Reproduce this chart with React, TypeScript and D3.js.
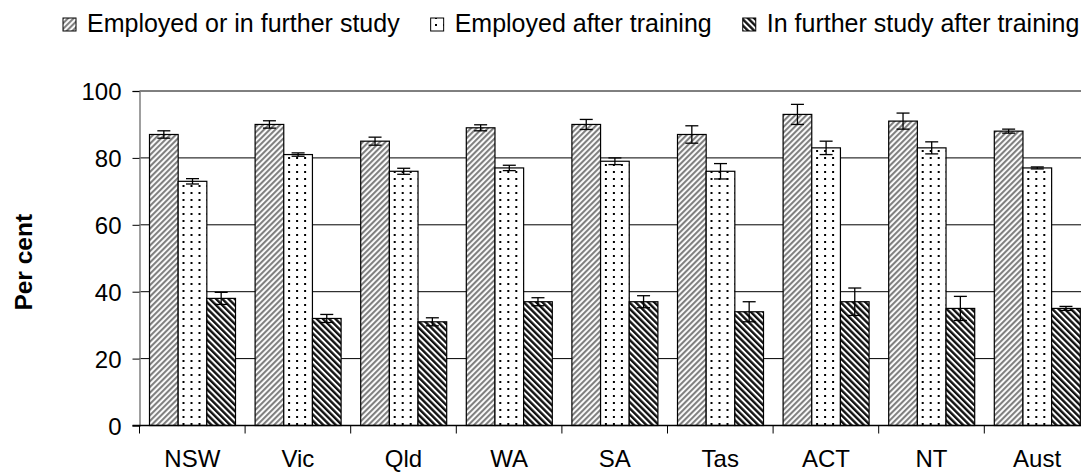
import React, { useEffect, useRef } from "react";
import * as d3 from "d3";

const categories = ["NSW", "Vic", "Qld", "WA", "SA", "Tas", "ACT", "NT", "Aust"];
const seriesNames = [
  "Employed or in further study",
  "Employed after training",
  "In further study after training",
];
const employedOrStudy = [87, 90, 85, 89, 90, 87, 93, 91, 88];
const employedOrStudyErr = [1.1, 1.1, 1.2, 0.9, 1.5, 2.6, 3, 2.4, 0.6];
const employed = [73, 81, 76, 77, 79, 76, 83, 83, 77];
const employedErr = [0.8, 0.5, 0.9, 0.8, 1, 2.3, 2, 1.8, 0.3];
const furtherStudy = [38, 32, 31, 37, 37, 34, 37, 35, 35];
const furtherStudyErr = [1.8, 1.2, 1.2, 1.2, 1.8, 3, 4.1, 3.6, 0.6];
const yTicks = [0, 20, 40, 60, 80, 100];

const values = [employedOrStudy, employed, furtherStudy];
const errors = [employedOrStudyErr, employedErr, furtherStudyErr];
const patternIds = ["pat-diag", "pat-dots", "pat-dark"];

const W = 1081;
const H = 472;
const FONT = "'Liberation Sans', Arial, sans-serif";

const App = () => {
  const svgRef = useRef<SVGSVGElement>(null);

  useEffect(() => {
    const svg = d3.select(svgRef.current);
    svg.selectAll("*").remove();

    // patterns
    const defs = svg.append("defs");
    const p1 = defs
      .append("pattern")
      .attr("id", "pat-diag")
      .attr("patternUnits", "userSpaceOnUse")
      .attr("width", 4)
      .attr("height", 4)
      .attr("patternTransform", "rotate(45)");
    p1.append("rect").attr("width", 4).attr("height", 4).attr("fill", "#fff");
    p1.append("rect").attr("width", 2.1).attr("height", 4).attr("fill", "#808080");

    const p2 = defs
      .append("pattern")
      .attr("id", "pat-dots")
      .attr("patternUnits", "userSpaceOnUse")
      .attr("width", 8)
      .attr("height", 7);
    p2.append("rect").attr("width", 8).attr("height", 7).attr("fill", "#fff");
    p2.append("rect").attr("x", 3).attr("y", 3).attr("width", 2).attr("height", 2).attr("fill", "#000");

    const p3 = defs
      .append("pattern")
      .attr("id", "pat-dark")
      .attr("patternUnits", "userSpaceOnUse")
      .attr("width", 4.4)
      .attr("height", 4.4)
      .attr("patternTransform", "rotate(-45)");
    p3.append("rect").attr("width", 4.4).attr("height", 4.4).attr("fill", "#fff");
    p3.append("rect").attr("width", 2.4).attr("height", 4.4).attr("fill", "#111");

    const left = 139.5;
    const top = 91;
    const bottom = 425.5;
    const step = 105.6;

    const x0 = d3
      .scaleBand<string>()
      .domain(categories)
      .range([left, left + step * categories.length])
      .padding(0);
    const x1 = d3
      .scaleBand<string>()
      .domain(seriesNames)
      .range([10, x0.bandwidth() - 9.6])
      .padding(0);
    const y = d3.scaleLinear().domain([0, 100]).range([bottom, top]);

    // gridlines
    svg
      .append("g")
      .selectAll("line")
      .data(yTicks.filter((t) => t > 0))
      .enter()
      .append("line")
      .attr("x1", left)
      .attr("x2", W)
      .attr("y1", (d) => y(d))
      .attr("y2", (d) => y(d))
      .attr("stroke", "#000")
      .attr("stroke-width", 1);

    // y axis
    const yAxis = svg
      .append("g")
      .attr("transform", `translate(${left},0)`)
      .call(d3.axisLeft(y).tickValues(yTicks).tickSize(7).tickPadding(11));
    yAxis.select(".domain").attr("stroke", "#808080").attr("stroke-width", 1.5);
    yAxis.selectAll(".tick line").attr("stroke", "#000");
    yAxis
      .selectAll(".tick text")
      .attr("font-family", FONT)
      .attr("font-size", 24)
      .attr("fill", "#000")
      .attr("dy", "0.36em");

    // bars
    const groups = svg
      .append("g")
      .selectAll("g")
      .data(categories)
      .enter()
      .append("g")
      .attr("transform", (d) => `translate(${x0(d)},0)`);

    seriesNames.forEach((s, si) => {
      groups
        .append("rect")
        .attr("x", x1(s)!)
        .attr("width", x1.bandwidth())
        .attr("y", (_, i) => y(values[si][i]))
        .attr("height", (_, i) => bottom - y(values[si][i]))
        .attr("fill", `url(#${patternIds[si]})`)
        .attr("stroke", "#000")
        .attr("stroke-width", 1.2);
    });

    // error bars
    seriesNames.forEach((s, si) => {
      const cx = x1(s)! + x1.bandwidth() / 2;
      const eb = groups.append("g").attr("stroke", "#000").attr("stroke-width", 1.3);
      eb.append("line")
        .attr("x1", cx)
        .attr("x2", cx)
        .attr("y1", (_, i) => y(values[si][i] + errors[si][i]))
        .attr("y2", (_, i) => y(values[si][i] - errors[si][i]));
      [1, -1].forEach((sg) => {
        eb.append("line")
          .attr("x1", cx - 6.5)
          .attr("x2", cx + 6.5)
          .attr("y1", (_, i) => y(values[si][i] + sg * errors[si][i]))
          .attr("y2", (_, i) => y(values[si][i] + sg * errors[si][i]));
      });
    });

    // x axis
    const xAxisG = svg.append("g").attr("transform", `translate(0,${bottom})`);
    xAxisG
      .append("line")
      .attr("x1", left - 7)
      .attr("x2", W)
      .attr("stroke", "#000")
      .attr("stroke-width", 1.3);
    xAxisG
      .selectAll("line.tk")
      .data(d3.range(categories.length + 1))
      .enter()
      .append("line")
      .attr("class", "tk")
      .attr("x1", (i) => left + i * x0.step())
      .attr("x2", (i) => left + i * x0.step())
      .attr("y1", 0)
      .attr("y2", 8)
      .attr("stroke", "#000");
    xAxisG
      .selectAll("text")
      .data(categories)
      .enter()
      .append("text")
      .attr("x", (d) => x0(d)! + x0.bandwidth() / 2)
      .attr("y", 41.5)
      .attr("text-anchor", "middle")
      .attr("font-family", FONT)
      .attr("font-size", 24)
      .text((d) => d);

    // y label
    svg
      .append("text")
      .attr("transform", `translate(32,${(top + bottom) / 2 + 4}) rotate(-90)`)
      .attr("text-anchor", "middle")
      .attr("font-family", FONT)
      .attr("font-size", 24.5)
      .attr("font-weight", "bold")
      .text("Per cent");

    // legend
    const legend = svg.append("g");
    let lx = 63;
    seriesNames.forEach((s, si) => {
      legend
        .append("rect")
        .attr("x", lx)
        .attr("y", 18)
        .attr("width", 13)
        .attr("height", 13)
        .attr("fill", `url(#${patternIds[si]})`)
        .attr("stroke", "#000")
        .attr("stroke-width", 1);
      const t = legend
        .append("text")
        .attr("x", lx + 24)
        .attr("y", 32)
        .attr("font-family", FONT)
        .attr("font-size", 25)
        .text(s);
      const len = (t.node() as SVGTextElement).getComputedTextLength();
      lx = lx + 24 + len + 31;
    });
  }, []);

  return (
    <svg
      ref={svgRef}
      width={W}
      height={H}
      style={{ position: "absolute", left: 0, top: 0, background: "#fff" }}
    ></svg>
  );
};

export default App;
